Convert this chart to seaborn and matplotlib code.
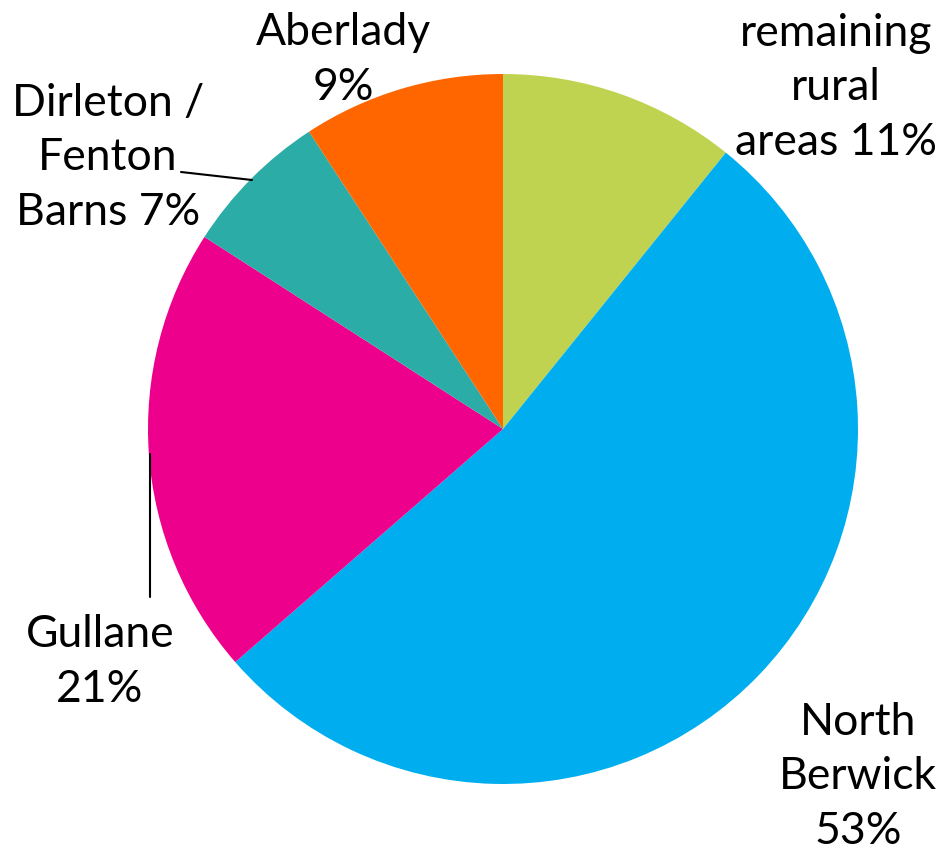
import matplotlib
matplotlib.use('Agg')
import matplotlib.pyplot as plt
import seaborn as sns

sns.set_style('white')
plt.rcParams['font.family'] = ['Lato', 'DejaVu Sans']

# Данные (по часовой стрелке от верха)
areas = ['remaining\nrural\nareas 11%', 'North\nBerwick\n53%', 'Gullane\n21%',
         'Dirleton /\nFenton\nBarns 7%', 'Aberlady\n9%']
shares = [10.8, 52.8, 20.5, 6.7, 9.2]
colors = ['#C0D351', '#00AEEF', '#EC008C', '#2BACA6', '#FF6600']

fig = plt.figure(figsize=(9.52, 8.54), dpi=100)
ax = fig.add_axes([0, 0, 1, 1])

# в перевёрнутой оси y pie идёт по часовой стрелке при counterclock=True
wedges, _ = ax.pie(shares, colors=colors, startangle=-90, counterclock=True,
                   center=(503, 430), radius=355, frame=True,
                   wedgeprops=dict(linewidth=0))
ax.set_xlim(0, 952)
ax.set_ylim(854, 0)
ax.set_aspect('equal')
ax.axis('off')

# подписи
label_pos = [(836, 88), (858, 777), (100, 662), (108, 158), (343, 60)]
for txt, (x, y) in zip(areas, label_pos):
    ax.text(x, y, txt, ha='center', va='center', fontsize=32,
            linespacing=1.4, color='black')

# линии-выноски
ax.plot([150, 150], [455, 598], color='black', lw=1.5)
ax.plot([181, 252], [173, 181], color='black', lw=1.5)

fig.savefig('out.png', dpi=100)
